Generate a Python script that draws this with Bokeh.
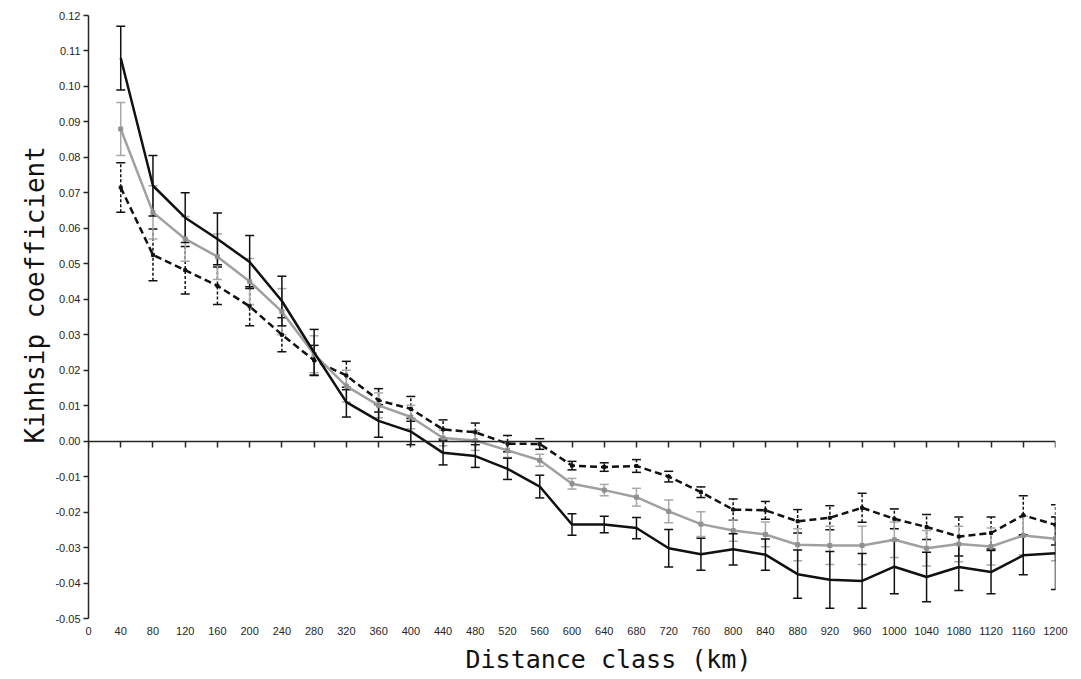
from bokeh.plotting import figure
from bokeh.models import (ColumnDataSource, Whisker, TeeHead, FixedTicker, LinearAxis,
                          NumeralTickFormatter, Title, Range1d, CustomLabelingPolicy)
from bokeh.embed import file_html
from bokeh.resources import INLINE

# ---------------- data ----------------
distance = [40, 80, 120, 160, 200, 240, 280, 320, 360, 400, 440, 480, 520, 560, 600,
            640, 680, 720, 760, 800, 840, 880, 920, 960, 1000, 1040, 1080, 1120, 1160, 1200]
x_ticks = [0, 40, 80, 120, 160, 200, 240, 280, 320, 360, 400, 440, 480, 520, 560, 600,
           640, 680, 720, 760, 800, 840, 880, 920, 960, 1000, 1040, 1080, 1120, 1160, 1200]
y_ticks = [-0.05, -0.04, -0.03, -0.02, -0.01, 0.0, 0.01, 0.02, 0.03, 0.04, 0.05,
           0.06, 0.07, 0.08, 0.09, 0.10, 0.11, 0.12]

kin_a = [0.108, 0.072, 0.063, 0.057, 0.0505, 0.0395, 0.025, 0.011, 0.0057, 0.0027,
         -0.0033, -0.0042, -0.0078, -0.0128, -0.0235, -0.0235, -0.0245, -0.0302, -0.0319, -0.0305,
         -0.032, -0.0375, -0.0391, -0.0394, -0.0354, -0.0383, -0.0355, -0.0369, -0.0322, -0.0316]
err_a = [0.009, 0.0085, 0.007, 0.0073, 0.0075, 0.007, 0.0065, 0.0042, 0.0046, 0.0037,
         0.0034, 0.0032, 0.003, 0.0032, 0.003, 0.0023, 0.003, 0.0053, 0.0045, 0.0044,
         0.0044, 0.0068, 0.008, 0.0077, 0.0076, 0.007, 0.0066, 0.0061, 0.0055, 0.0102]

kin_b = [0.088, 0.0645, 0.057, 0.052, 0.045, 0.0365, 0.0245, 0.0155, 0.0101, 0.0068,
         0.0009, 0.0002, -0.0026, -0.0054, -0.012, -0.0138, -0.0158, -0.0198, -0.0234, -0.0252,
         -0.0263, -0.0292, -0.0294, -0.0294, -0.0278, -0.0302, -0.029, -0.0297, -0.0266, -0.0275]
err_b = [0.0075, 0.0075, 0.0063, 0.0064, 0.0065, 0.0065, 0.0052, 0.0045, 0.0035, 0.0033,
         0.0022, 0.0028, 0.002, 0.0017, 0.0015, 0.0016, 0.0025, 0.0032, 0.0035, 0.003,
         0.0035, 0.0045, 0.0054, 0.0054, 0.005, 0.005, 0.005, 0.0052, 0.0054, 0.0062]

kin_c = [0.0715, 0.0525, 0.0482, 0.0438, 0.038, 0.030, 0.0228, 0.0185, 0.0115, 0.0091,
         0.0033, 0.0025, -0.0007, -0.0008, -0.0069, -0.0073, -0.007, -0.01, -0.0144, -0.0193,
         -0.0195, -0.0226, -0.0216, -0.0188, -0.0219, -0.0242, -0.0269, -0.0259, -0.0209, -0.0236]
err_c = [0.007, 0.0073, 0.0067, 0.0053, 0.0055, 0.0048, 0.0042, 0.004, 0.0033, 0.0035,
         0.0027, 0.0026, 0.0023, 0.0015, 0.0012, 0.0012, 0.0018, 0.0015, 0.0015, 0.003,
         0.0025, 0.0033, 0.0034, 0.0041, 0.0028, 0.0035, 0.0055, 0.0045, 0.0055, 0.0057]

x_title = "Distance class (km)"
y_title = "Kinhsip coefficient"

# ---------------- figure ----------------
TXT = "#262626"
p = figure(frame_width=967, frame_height=603, output_backend="svg", toolbar_location=None,
           x_range=Range1d(0, 1200), y_range=Range1d(-0.05, 0.12),
           min_border_left=88, min_border_right=18, min_border_top=15, min_border_bottom=20)
p.outline_line_color = None
p.xgrid.visible = False
p.ygrid.visible = False
p.background_fill_color = "white"

# y axis
ya = p.yaxis[0]
ya.ticker = FixedTicker(ticks=y_ticks)
ya.formatter = NumeralTickFormatter(format="0.00")
ya.axis_line_color = TXT
ya.axis_line_width = 1.5
ya.major_tick_line_color = TXT
ya.major_tick_line_width = 1.5
ya.major_tick_in = 0
ya.major_tick_out = 5
ya.minor_tick_line_color = None
ya.major_label_standoff = 3
ya.major_label_text_font = "Liberation Sans"
ya.major_label_text_font_size = "11px"
ya.major_label_text_color = TXT

# bottom axis: labels only
xa = p.xaxis[0]
xa.ticker = FixedTicker(ticks=x_ticks)
xa.axis_line_color = None
xa.major_tick_line_color = None
xa.minor_tick_line_color = None
xa.major_tick_in = 0
xa.major_tick_out = 0
xa.major_label_standoff = 8
xa.major_label_text_font = "Liberation Sans"
xa.major_label_text_font_size = "11px"
xa.major_label_text_color = TXT

# zero line axis with ticks, no labels
no_labels = CustomLabelingPolicy(code="for (const i of [...indices]) { indices.unset(i) }\nreturn indices")
zero_axis = LinearAxis(fixed_location=0, ticker=FixedTicker(ticks=x_ticks),
                       major_tick_in=0, major_tick_out=6, minor_tick_line_color=None,
                       major_label_policy=no_labels, major_label_standoff=0,
                       major_label_text_font_size="11px",
                       axis_line_color=TXT, axis_line_width=1.5,
                       major_tick_line_color=TXT, major_tick_line_width=1.5)
p.add_layout(zero_axis, "below")

# ---------------- series ----------------
def whiskers(vals, errs, color, dash="solid"):
    src = ColumnDataSource(dict(x=distance,
                                upper=[v + e for v, e in zip(vals, errs)],
                                lower=[v - e for v, e in zip(vals, errs)]))
    w = Whisker(base="x", upper="upper", lower="lower", source=src,
                line_color=color, line_width=1.5, line_dash=dash,
                upper_head=TeeHead(size=9, line_color=color, line_width=1.5),
                lower_head=TeeHead(size=9, line_color=color, line_width=1.5))
    p.add_layout(w)

# dashed series
whiskers(kin_c, err_c, "#111111", "3 2")
p.line(distance, kin_c, line_color="#111111", line_width=2.5, line_dash="7 4")
p.scatter(distance, kin_c, marker="square", size=3, color="#111111")

# gray series
whiskers(kin_b, err_b, "#a8a8a8")
p.line(distance, kin_b, line_color="#a0a0a0", line_width=2.5)
p.scatter(distance, kin_b, marker="square", size=4, color="#909090")

# solid black series
whiskers(kin_a, err_a, "#111111")
p.line(distance, kin_a, line_color="#111111", line_width=2.5)

# axis titles
p.add_layout(Title(text=x_title, align="left", offset=377, text_font="DejaVu Sans Mono",
                   text_font_size="25px", text_font_style="normal", text_color="#111111",
                   standoff=10), "below")
p.add_layout(Title(text=y_title, align="left", offset=175, text_font="DejaVu Sans Mono",
                   text_font_size="26px", text_font_style="normal", text_color="#111111",
                   standoff=6), "left")

open("out.html", "w").write(file_html(p, INLINE))
